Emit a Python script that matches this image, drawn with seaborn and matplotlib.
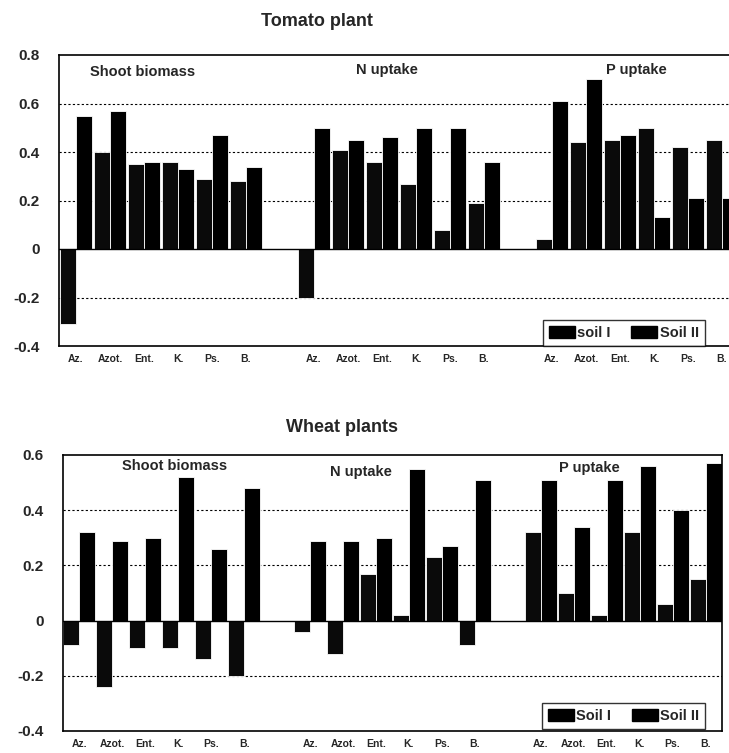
import matplotlib
matplotlib.use("Agg")
import matplotlib.pyplot as plt
from matplotlib.patches import Patch
import seaborn as sns
import pandas as pd

treatments = ["Az.", "Azot.", "Ent.", "K.", "Ps.", "B."]
groups = ["Shoot biomass", "N uptake", "P uptake"]

tomato_soil1 = [-0.31, 0.40, 0.35, 0.36, 0.29, 0.28,
                -0.20, 0.41, 0.36, 0.27, 0.08, 0.19,
                0.04, 0.44, 0.45, 0.50, 0.42, 0.45]
tomato_soil2 = [0.55, 0.57, 0.36, 0.33, 0.47, 0.34,
                0.50, 0.45, 0.46, 0.50, 0.50, 0.36,
                0.61, 0.70, 0.47, 0.13, 0.21, 0.21]
wheat_soil1 = [-0.09, -0.24, -0.10, -0.10, -0.14, -0.20,
               -0.04, -0.12, 0.17, 0.02, 0.23, -0.09,
               0.32, 0.10, 0.02, 0.32, 0.06, 0.15]
wheat_soil2 = [0.32, 0.29, 0.30, 0.52, 0.26, 0.48,
               0.29, 0.29, 0.30, 0.55, 0.27, 0.51,
               0.51, 0.34, 0.51, 0.56, 0.40, 0.57]

tomato_legend = ["soil I", "Soil II"]
wheat_legend = ["Soil I", "Soil II"]
tomato_yticks = [-0.4, -0.2, 0, 0.2, 0.4, 0.6, 0.8]
wheat_yticks = [-0.4, -0.2, 0, 0.2, 0.4, 0.6]

sns.set_style("white")
plt.rcParams['font.family'] = ['Liberation Sans', 'DejaVu Sans']
plt.rcParams['font.weight'] = 'bold'

W, H = 729, 753
fig = plt.figure(figsize=(W / 100, H / 100), dpi=100)


def positions():
    return [g * 7 + t for g in range(len(groups)) for t in range(len(treatments))]


def make_df(s1, s2, labels):
    pos = positions()
    return pd.DataFrame({
        "x": pos + pos,
        "value": list(s1) + list(s2),
        "soil": [labels[0]] * len(pos) + [labels[1]] * len(pos),
    })


def draw(ax, s1, s2, labels, yticks, ylim, title, title_xy, label_pos, leg_box):
    df = make_df(s1, s2, labels)
    sns.barplot(data=df, x="x", y="value", hue="soil", native_scale=True,
                palette=["#0a0a0a", "#000000"], width=0.97, dodge=True,
                edgecolor="white", linewidth=0.6, legend=False, ax=ax,
                errorbar=None, saturation=1)
    ax.set_xlim(-0.5, 19.5)
    ax.set_ylim(*ylim)
    ax.set_yticks(yticks)
    ax.set_yticklabels([("%g" % v) for v in yticks], fontsize=11, fontweight='bold')
    ax.set_xticks(positions())
    ax.set_xticklabels(treatments * 3, fontsize=7.5, fontweight='bold')
    ax.tick_params(axis='y', length=0, pad=14)
    ax.tick_params(axis='x', length=0, pad=6)
    ax.set_xlabel("")
    ax.set_ylabel("")
    for v in yticks:
        if v in (ylim[0], ylim[1]):
            continue
        if v == 0:
            ax.axhline(0, color='black', lw=1.0, zorder=3)
        else:
            ax.axhline(v, color='black', lw=0.8, ls=(0, (2, 2)), zorder=0)
    for sp in ax.spines.values():
        sp.set_color('black')
        sp.set_linewidth(1.2)
    fig.text(title_xy[0] / W, 1 - title_xy[1] / H, title, fontsize=13,
             fontweight='bold', ha='center', va='center')
    for g, (gx, gy) in zip(groups, label_pos):
        ax.text(gx, gy, g, fontsize=10.5, fontweight='bold', ha='left', va='center')
    handles = [Patch(facecolor='black', edgecolor='black'),
               Patch(facecolor='black', edgecolor='black')]
    leg = fig.legend(handles, labels, ncol=2, loc='lower left',
                     bbox_to_anchor=(leg_box[0] / W, 1 - leg_box[1] / H),
                     frameon=True, fancybox=False, edgecolor='black',
                     prop={'weight': 'bold', 'size': 10.5}, handlelength=1.8,
                     handleheight=0.9, handletextpad=0.15, columnspacing=1.4,
                     borderpad=0.4, borderaxespad=0.0)
    leg.get_frame().set_linewidth(1.0)


ax1 = fig.add_axes([59 / W, 1 - 346 / H, 680 / W, 291 / H])
draw(ax1, tomato_soil1, tomato_soil2, tomato_legend, tomato_yticks, (-0.4, 0.8),
     "Tomato plant", (317, 22),
     [(0.4, 0.73), (8.25, 0.738), (15.6, 0.738)], (543, 346))

ax2 = fig.add_axes([63 / W, 1 - 731 / H, 659 / W, 276 / H])
draw(ax2, wheat_soil1, wheat_soil2, wheat_legend, wheat_yticks, (-0.4, 0.6),
     "Wheat plants", (342, 427),
     [(1.3, 0.56), (7.6, 0.54), (14.55, 0.553)], (542, 729))

fig.savefig("out.png", dpi=100)
